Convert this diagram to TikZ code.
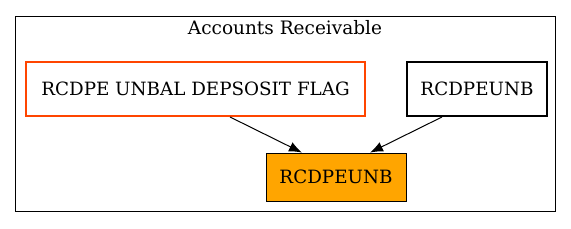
\documentclass[tikz,border=0pt]{standalone}
\usepackage{fontspec}
\setmainfont{DejaVu Serif}
\usetikzlibrary{arrows.meta}
\definecolor{flagred}{HTML}{FF4500}
\definecolor{fillorange}{HTML}{FFA500}
\begin{document}
\begin{tikzpicture}[x=1pt,y=-1pt,
  box/.style={draw, rectangle, inner sep=0pt, font=\fontsize{18.3}{21}\selectfont},
  conn/.style={-{Latex[length=13pt,width=10pt]}, line width=1pt}]
\useasboundingbox (0,0) rectangle (571,228);
\node[draw, line width=1pt, minimum width=540pt, minimum height=195pt, inner sep=0pt] (cluster) at (285,113.5) {};
\node[font=\fontsize{18.5}{21}\selectfont] (title) at (285,28) {Accounts Receivable};
\node[box, draw=flagred, line width=2pt, minimum width=339pt, minimum height=54pt] (flag) at (195.5,89) {RCDPE UNBAL DEPSOSIT FLAG};
\node[box, line width=2pt, minimum width=140pt, minimum height=54pt] (src) at (477,89) {RCDPEUNB};
\node[box, fill=fillorange, line width=0.8pt, minimum width=140pt, minimum height=48pt] (tgt) at (336,177) {RCDPEUNB};
\draw[conn] (flag.south -| 230,0) -- (tgt.north -| 302,0);
\draw[conn] (src.south -| 442,0) -- (tgt.north -| 370,0);
\end{tikzpicture}
\end{document}
